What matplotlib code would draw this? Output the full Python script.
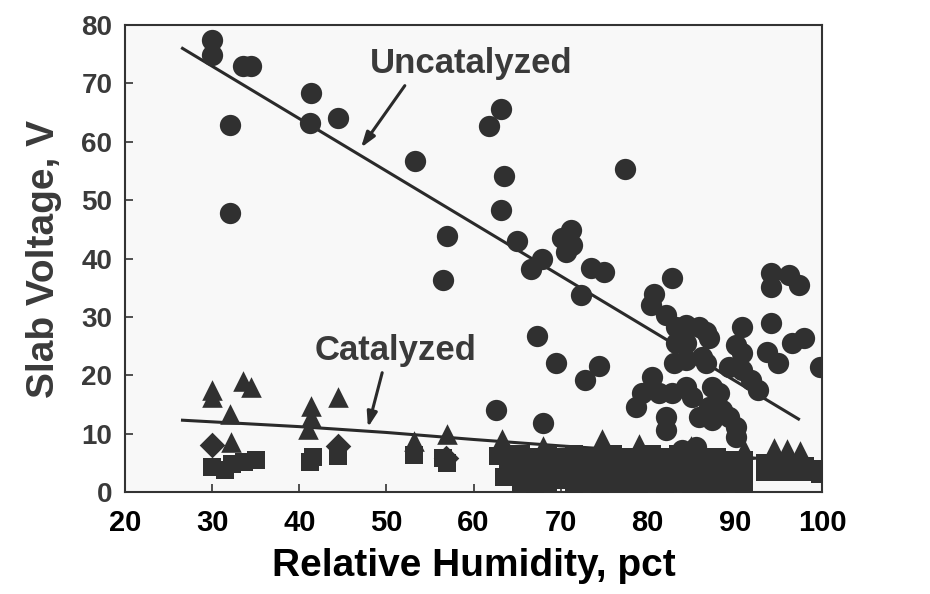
import matplotlib.pyplot as plt
from matplotlib import font_manager

# uncatalyzed slabs (circles)
unc_x = [30, 30, 33.5, 34.5, 32.1, 32.1, 41.4, 41.2, 44.4, 53.3, 57, 56.5,
         61.8, 63.2, 63.5, 63.2, 65, 62.6, 66.6, 67.9, 67.3, 68, 69.5, 70.2,
         71.2, 70.6, 71.3, 72.3, 72.8, 73.5, 74.4, 75, 77.4,
         82.8, 80.7, 80.4, 82.1, 83.2, 84.4, 85.9, 86.7, 87, 83.2, 84.4, 86.2,
         86.7, 83, 84.4, 80.5, 79.3, 78.6, 81.3, 82.8, 84.4, 85.1, 87.4, 88.2,
         87, 88.5, 85.9, 87.4, 89.3, 90.1, 90.1, 82.1, 82.1, 90.8, 90.1, 90.8,
         89.3, 90.8, 91.9, 92.7, 94.1, 93.7, 95, 96.5, 97.9, 94.1, 94.2, 96.2,
         97.3, 99.8, 83.9, 85.5]
unc_y = [77.4, 74.8, 73, 73, 62.8, 47.8, 68.3, 63.2, 64, 56.7, 43.8, 36.3,
         62.7, 65.6, 54.1, 48.3, 43, 14, 38.2, 40, 26.7, 11.8, 22.1, 43.5,
         44.9, 41.1, 42.3, 33.7, 19.2, 38.4, 21.6, 37.7, 55.3,
         36.6, 34, 32, 30.3, 28.3, 28.6, 28.3, 27.4, 26.4, 25.5, 25.5, 23.1,
         22.1, 22.1, 22.6, 19.7, 16.9, 14.6, 16.9, 16.9, 18, 16.3, 18, 16.9,
         14.6, 14, 12.8, 12.3, 12.8, 11.1, 9.4, 12.8, 10.6, 28.3, 25.2, 23.8,
         21.4, 20.9, 19.2, 17.5, 28.9, 24, 22.1, 25.5, 26.4, 37.5, 35.1, 37.2,
         35.4, 21.4, 7.2, 7.7]

# catalyzed slabs (triangles, diamonds, squares)
tri_x = [30, 30, 33.5, 34.5, 32.1, 32.2, 41.4, 41.4, 41, 44.4, 53.2, 57,
         63.3, 68, 74.7, 79, 85, 91, 94.5, 96, 97.5]
tri_y = [17.5, 16.3, 19, 18, 13.3, 8.6, 14.8, 12.8, 10.8, 16.2, 8.8, 10,
         9, 7.8, 9, 8.3, 7.8, 7.4, 7.5, 7.3, 7.1]
dia_x = [30, 44.5, 56.9]
dia_y = [8, 7.8, 5.9]
sq_x = [30, 31.5, 32.3, 33.7, 35, 41.2, 41.6, 44.4, 53.2, 56.5, 57, 62.8, 63.5,
        64, 64, 65.5, 65.5, 65.5, 67, 67, 67, 68.5, 68.5, 68.5, 70, 70, 70,
        71.5, 71.5, 71.5, 73, 73, 73, 74.5, 74.5, 74.5, 76, 76, 76,
        77.5, 77.5, 77.5, 79, 79, 79, 80.5, 80.5, 80.5, 82, 82, 82,
        83.5, 83.5, 83.5, 85, 85, 85, 86.5, 86.5, 86.5, 88, 88, 88,
        89.5, 89.5, 89.5, 91, 91, 91, 93.5, 93.5, 95, 95, 96.5, 96.5,
        98, 98, 99.8, 99.8]
sq_y = [4.3, 3.8, 4.8, 5.2, 5.4, 5.2, 6, 6.2, 6.3, 5.8, 5, 6.2, 2.5,
        6.5, 4, 6.5, 3.5, 1.5, 6, 3.5, 1, 6.5, 4, 1.5, 6, 3.5, 2,
        6.5, 4, 1, 6, 4, 1.5, 6, 3.5, 1, 6.5, 4, 1.5,
        6, 3.5, 1.5, 6, 3.5, 1, 6.5, 4, 1.5, 6, 3.5, 1,
        6.5, 4, 1.5, 6, 3.5, 1, 6, 4, 1.5, 6, 3.5, 1,
        5.5, 3.5, 1.5, 5.5, 3, 1, 5, 3.5, 5, 3.5, 5, 3.5,
        4.5, 3.5, 4, 3]

# fitted trend lines
unc_fit_x = [26.6, 97.3]
unc_fit_y = [76, 12.5]
cat_fit_x = [26.6, 40, 50, 60, 70, 80, 90, 97]
cat_fit_y = [12.3, 11.2, 10.2, 9.0, 7.9, 6.9, 6.0, 5.4]

xticks = [20, 30, 40, 50, 60, 70, 80, 90, 100]
yticks = [0, 10, 20, 30, 40, 50, 60, 70, 80]

names = {f.name for f in font_manager.fontManager.ttflist}
narrow = 'Liberation Sans Narrow' if 'Liberation Sans Narrow' in names else 'Liberation Sans'
gray = '#3a3a3a'
mark = '#303030'

fig = plt.figure(figsize=(9.3, 5.94), dpi=100, facecolor='white')
ax = fig.add_axes([0.1344, 0.1717, 0.7495, 0.7862])
ax.set_facecolor('#f8f8f8')

ax.plot(unc_fit_x, unc_fit_y, color='#2a2a2a', lw=2.2, zorder=2)
ax.plot(cat_fit_x, cat_fit_y, color='#2a2a2a', lw=2.2, zorder=2)

ax.scatter(unc_x, unc_y, s=235, marker='o', color=mark, lw=0, zorder=3)
ax.scatter(sq_x, sq_y, s=175, marker='s', color=mark, lw=0, zorder=3)
ax.scatter(tri_x, tri_y, s=220, marker='^', color=mark, lw=0, zorder=3)
ax.scatter(dia_x, dia_y, s=170, marker='D', color=mark, lw=0, zorder=3)

ax.text(59.7, 73.4, 'Uncatalyzed', fontsize=25, fontweight='bold', color=gray,
        family='Liberation Sans', ha='center', va='center')
ax.annotate('', xy=(46.9, 58.6), xytext=(52.3, 70),
            arrowprops=dict(arrowstyle='-|>,head_width=0.3,head_length=0.9',
                            color='#2a2a2a', lw=2.2))
ax.text(51, 24.2, 'Catalyzed', fontsize=25, fontweight='bold', color=gray,
        family='Liberation Sans', ha='center', va='center')
ax.annotate('', xy=(47.8, 10.6), xytext=(49.6, 20.9),
            arrowprops=dict(arrowstyle='-|>,head_width=0.3,head_length=0.9',
                            color='#2a2a2a', lw=2.2))

ax.set_xlim(20, 100)
ax.set_ylim(0, 80)
ax.set_xticks(xticks)
ax.set_yticks(yticks)
ax.tick_params(axis='both', direction='in', length=6, width=1.2, color='#333333')
ax.tick_params(axis='x', pad=12)
ax.tick_params(axis='y', pad=9)
for lab in ax.get_xticklabels():
    lab.set_family(narrow)
    lab.set_fontweight('bold')
    lab.set_fontsize(21)
    lab.set_color('black')
for lab in ax.get_yticklabels():
    lab.set_family('Liberation Sans')
    lab.set_fontweight('bold')
    lab.set_fontsize(20)
    lab.set_color(gray)
for sp in ax.spines.values():
    sp.set_color('#333333')
    sp.set_linewidth(1.5)

ax.set_xlabel('Relative Humidity, pct', family=narrow, fontweight='bold',
              fontsize=28, color='black', labelpad=8)
ax.set_ylabel('Slab Voltage, V', family='Liberation Sans', fontweight='bold',
              fontsize=28, color=gray, labelpad=14)

fig.savefig('out.png', dpi=100, facecolor='white')
